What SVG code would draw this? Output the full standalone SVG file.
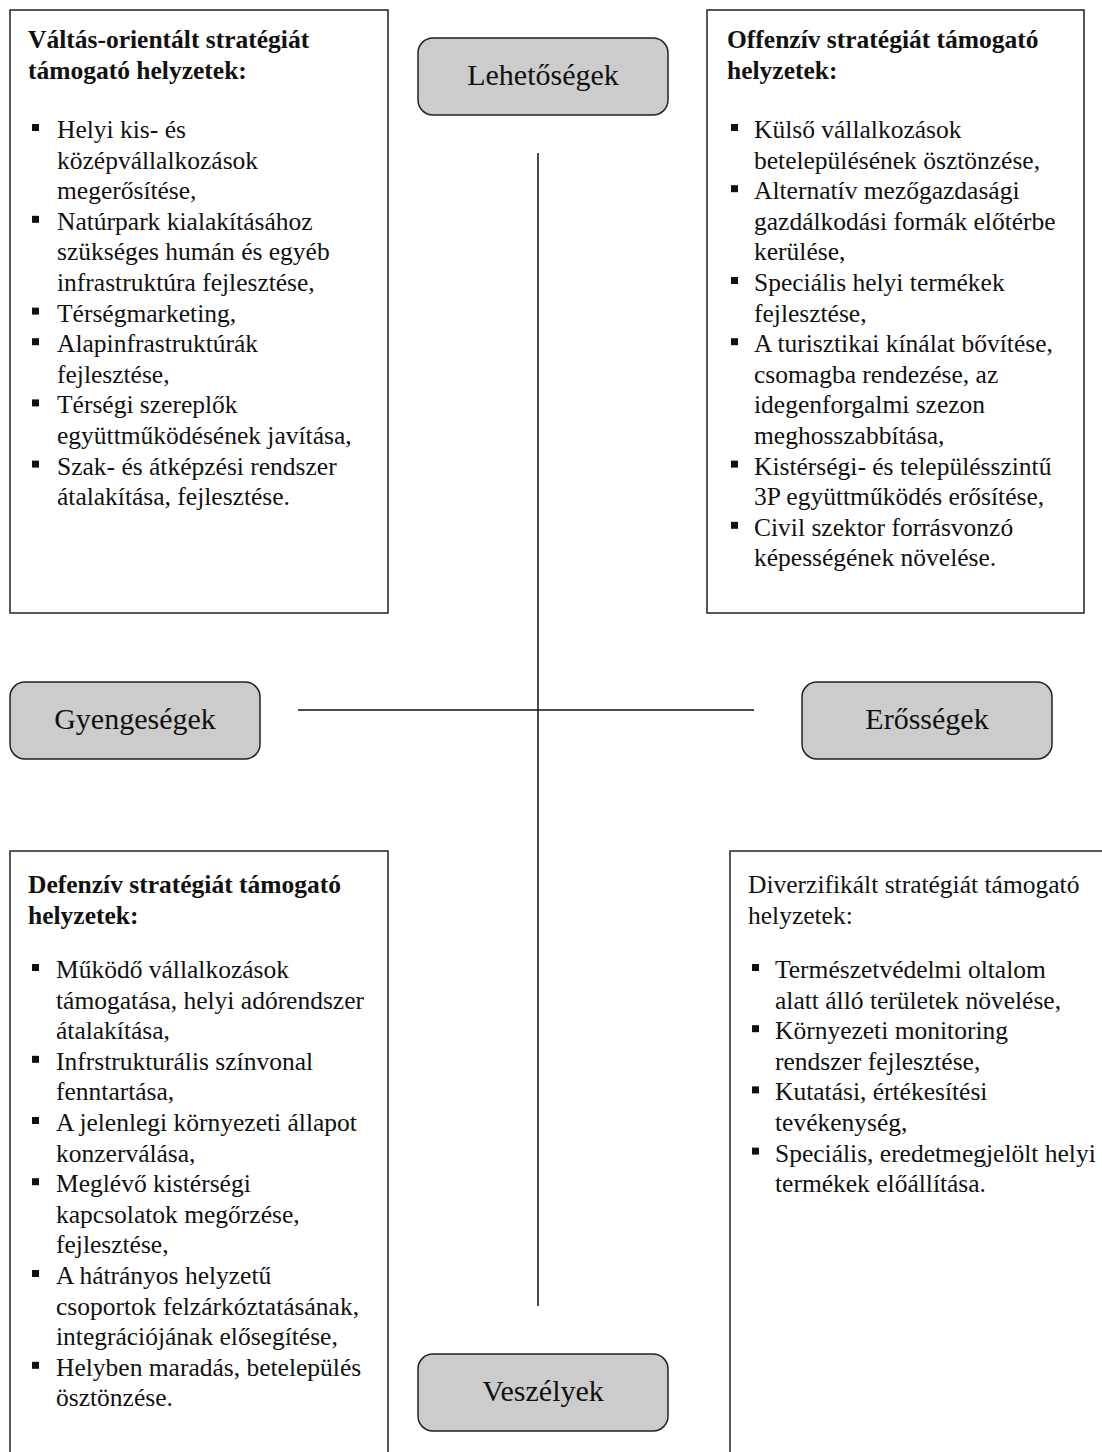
<svg xmlns="http://www.w3.org/2000/svg" width="1102" height="1452" viewBox="0 0 1102 1452">
<style>
.bg{fill:#ffffff}
.box{fill:#ffffff;stroke:#222222;stroke-width:1.5}
.lbl{fill:#cccccc;stroke:#222222;stroke-width:1.5}
.conn{stroke:#111111;stroke-width:1.5;fill:none}
.t{font-family:"Liberation Serif","Times New Roman",serif;font-size:25.5px;fill:#111111}
.tb{font-family:"Liberation Serif","Times New Roman",serif;font-size:25.5px;font-weight:bold;fill:#111111}
.lt{font-family:"Liberation Serif","Times New Roman",serif;font-size:30px;fill:#111111;text-anchor:middle}
.bul{fill:#111111}
</style>
<defs>
<rect id="b" width="7" height="7" class="bul"/>
</defs>
<rect class="bg" x="0" y="0" width="1102" height="1452"/>

<g id="connectors">
<line class="conn" x1="538" y1="153" x2="538" y2="1306"/>
<line class="conn" x1="298" y1="710" x2="754" y2="710"/>
</g>

<g id="box-valtas">
<rect class="box" x="10" y="10" width="378" height="603"/>
<text class="tb"><tspan x="28" y="48">Váltás-orientált stratégiát</tspan><tspan x="28" y="79">támogató helyzetek:</tspan></text>
<use href="#b" x="32" y="124"/>
<use href="#b" x="32" y="215.8"/>
<use href="#b" x="32" y="307.6"/>
<use href="#b" x="32" y="338.2"/>
<use href="#b" x="32" y="399.4"/>
<use href="#b" x="32" y="460.6"/>
<text class="t">
<tspan x="57" y="138">Helyi kis- és</tspan>
<tspan x="57" y="168.6">középvállalkozások</tspan>
<tspan x="57" y="199.2">megerősítése,</tspan>
<tspan x="57" y="229.8">Natúrpark kialakításához</tspan>
<tspan x="57" y="260.4">szükséges humán és egyéb</tspan>
<tspan x="57" y="291">infrastruktúra fejlesztése,</tspan>
<tspan x="57" y="321.6">Térségmarketing,</tspan>
<tspan x="57" y="352.2">Alapinfrastruktúrák</tspan>
<tspan x="57" y="382.8">fejlesztése,</tspan>
<tspan x="57" y="413.4">Térségi szereplők</tspan>
<tspan x="57" y="444">együttműködésének javítása,</tspan>
<tspan x="57" y="474.6">Szak- és átképzési rendszer</tspan>
<tspan x="57" y="505.2">átalakítása, fejlesztése.</tspan>
</text>
</g>

<g id="box-offenziv">
<rect class="box" x="707" y="10" width="377" height="603"/>
<text class="tb"><tspan x="727" y="48">Offenzív stratégiát támogató</tspan><tspan x="727" y="79">helyzetek:</tspan></text>
<use href="#b" x="731" y="124"/>
<use href="#b" x="731" y="185.2"/>
<use href="#b" x="731" y="277"/>
<use href="#b" x="731" y="338.2"/>
<use href="#b" x="731" y="460.6"/>
<use href="#b" x="731" y="521.8"/>
<text class="t">
<tspan x="754" y="138">Külső vállalkozások</tspan>
<tspan x="754" y="168.6">betelepülésének ösztönzése,</tspan>
<tspan x="754" y="199.2">Alternatív mezőgazdasági</tspan>
<tspan x="754" y="229.8">gazdálkodási formák előtérbe</tspan>
<tspan x="754" y="260.4">kerülése,</tspan>
<tspan x="754" y="291">Speciális helyi termékek</tspan>
<tspan x="754" y="321.6">fejlesztése,</tspan>
<tspan x="754" y="352.2">A turisztikai kínálat bővítése,</tspan>
<tspan x="754" y="382.8">csomagba rendezése, az</tspan>
<tspan x="754" y="413.4">idegenforgalmi szezon</tspan>
<tspan x="754" y="444">meghosszabbítása,</tspan>
<tspan x="754" y="474.6">Kistérségi- és településszintű</tspan>
<tspan x="754" y="505.2">3P együttműködés erősítése,</tspan>
<tspan x="754" y="535.8">Civil szektor forrásvonzó</tspan>
<tspan x="754" y="566.4">képességének növelése.</tspan>
</text>
</g>

<g id="box-defenziv">
<rect class="box" x="10" y="851" width="378" height="640"/>
<text class="tb"><tspan x="28" y="893">Defenzív stratégiát támogató</tspan><tspan x="28" y="924">helyzetek:</tspan></text>
<use href="#b" x="32" y="964"/>
<use href="#b" x="32" y="1055.8"/>
<use href="#b" x="32" y="1117"/>
<use href="#b" x="32" y="1178.2"/>
<use href="#b" x="32" y="1270"/>
<use href="#b" x="32" y="1361.8"/>
<text class="t">
<tspan x="56" y="978">Működő vállalkozások</tspan>
<tspan x="56" y="1008.6">támogatása, helyi adórendszer</tspan>
<tspan x="56" y="1039.2">átalakítása,</tspan>
<tspan x="56" y="1069.8">Infrstrukturális színvonal</tspan>
<tspan x="56" y="1100.4">fenntartása,</tspan>
<tspan x="56" y="1131">A jelenlegi környezeti állapot</tspan>
<tspan x="56" y="1161.6">konzerválása,</tspan>
<tspan x="56" y="1192.2">Meglévő kistérségi</tspan>
<tspan x="56" y="1222.8">kapcsolatok megőrzése,</tspan>
<tspan x="56" y="1253.4">fejlesztése,</tspan>
<tspan x="56" y="1284">A hátrányos helyzetű</tspan>
<tspan x="56" y="1314.6">csoportok felzárkóztatásának,</tspan>
<tspan x="56" y="1345.2">integrációjának elősegítése,</tspan>
<tspan x="56" y="1375.8">Helyben maradás, betelepülés</tspan>
<tspan x="56" y="1406.4">ösztönzése.</tspan>
</text>
</g>

<g id="box-diverzifikalt">
<rect class="box" x="730" y="851" width="420" height="640"/>
<text class="t"><tspan x="748" y="893">Diverzifikált stratégiát támogató</tspan><tspan x="748" y="924">helyzetek:</tspan></text>
<use href="#b" x="752" y="964"/>
<use href="#b" x="752" y="1025.2"/>
<use href="#b" x="752" y="1086.4"/>
<use href="#b" x="752" y="1147.6"/>
<text class="t">
<tspan x="775" y="978">Természetvédelmi oltalom</tspan>
<tspan x="775" y="1008.6">alatt álló területek növelése,</tspan>
<tspan x="775" y="1039.2">Környezeti monitoring</tspan>
<tspan x="775" y="1069.8">rendszer fejlesztése,</tspan>
<tspan x="775" y="1100.4">Kutatási, értékesítési</tspan>
<tspan x="775" y="1131">tevékenység,</tspan>
<tspan x="775" y="1161.6">Speciális, eredetmegjelölt helyi</tspan>
<tspan x="775" y="1192.2">termékek előállítása.</tspan>
</text>
</g>

<g id="node-lehetosegek">
<rect class="lbl" x="418" y="38" width="250" height="77" rx="15"/>
<text class="lt" x="543" y="85">Lehetőségek</text>
</g>
<g id="node-gyengesegek">
<rect class="lbl" x="10" y="682" width="250" height="77" rx="15"/>
<text class="lt" x="135" y="729">Gyengeségek</text>
</g>
<g id="node-erossegek">
<rect class="lbl" x="802" y="682" width="250" height="77" rx="15"/>
<text class="lt" x="927" y="729">Erősségek</text>
</g>
<g id="node-veszelyek">
<rect class="lbl" x="418" y="1354" width="250" height="77" rx="15"/>
<text class="lt" x="543" y="1401">Veszélyek</text>
</g>
</svg>
